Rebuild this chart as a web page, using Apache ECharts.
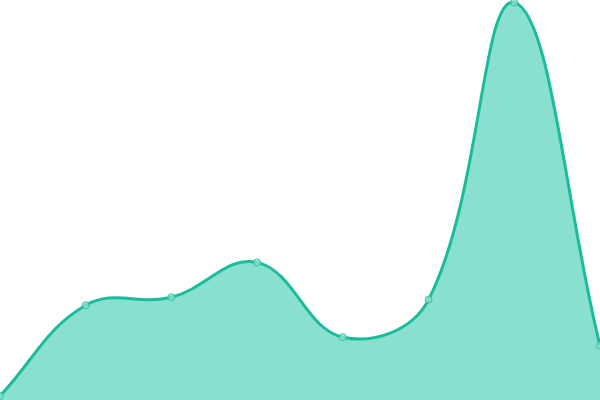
<!DOCTYPE html>
<html>
<head>
<meta charset="utf-8">
<script src="https://cdn.jsdelivr.net/npm/echarts@6/dist/echarts.min.js"></script>
<style>html,body{margin:0;padding:0;background:#fff}#c{width:600px;height:400px}</style>
</head>
<body>
<div id="c"></div>
<script>
const categories = ['A', 'B', 'C', 'D', 'E', 'F', 'G', 'H'];
const values = [10, 237, 257, 344, 157, 251, 994, 136];

const LINE_COLOR = '#1abc9c';
const FILL_COLOR = '#8ae0cf';
const TENSION = 0.4;

function splinePath(pts) {
  // distance-weighted cardinal spline (tension 0.4) in pixel space
  const cps = pts.map((cur, i) => {
    const prev = pts[i - 1] || cur;
    const next = pts[i + 1] || cur;
    const d01 = Math.hypot(cur[0] - prev[0], cur[1] - prev[1]);
    const d12 = Math.hypot(next[0] - cur[0], next[1] - cur[1]);
    let s01 = d01 / (d01 + d12), s12 = d12 / (d01 + d12);
    if (isNaN(s01)) s01 = 0;
    if (isNaN(s12)) s12 = 0;
    const fa = TENSION * s01, fb = TENSION * s12;
    return {
      prev: [cur[0] - fa * (next[0] - prev[0]), cur[1] - fa * (next[1] - prev[1])],
      next: [cur[0] + fb * (next[0] - prev[0]), cur[1] + fb * (next[1] - prev[1])]
    };
  });
  let d = 'M' + pts[0][0] + ' ' + pts[0][1];
  for (let i = 1; i < pts.length; i++) {
    const c1 = cps[i - 1].next, c2 = cps[i].prev, p = pts[i];
    d += ' C' + c1[0] + ' ' + c1[1] + ' ' + c2[0] + ' ' + c2[1] + ' ' + p[0] + ' ' + p[1];
  }
  return d;
}

const chart = echarts.init(document.getElementById('c'));
chart.setOption({
  animation: false,
  grid: { left: 0, right: 0, top: 0, bottom: 0 },
  xAxis: { type: 'category', data: categories, boundaryGap: false, show: false },
  yAxis: { type: 'value', min: 0, max: 1000, show: false },
  series: [{
    type: 'custom',
    data: values.map((v, i) => [i, v]),
    clip: false,
    z: 2,
    renderItem: function (params, api) {
      if (params.dataIndex !== 0) return null;
      const pts = values.map((v, i) => api.coord([i, v]));
      const base = api.coord([0, 0])[1];
      const line = splinePath(pts);
      const area = line + ' L' + pts[pts.length - 1][0] + ' ' + base + ' L' + pts[0][0] + ' ' + base + ' Z';
      return {
        type: 'group',
        children: [
          { type: 'path', shape: { pathData: area }, style: { fill: FILL_COLOR, stroke: null } },
          { type: 'path', shape: { pathData: line }, style: { fill: null, stroke: LINE_COLOR, lineWidth: 3 } }
        ]
      };
    }
  }, {
    type: 'scatter',
    data: values,
    z: 3,
    symbol: 'circle',
    symbolSize: 7,
    clip: false,
    itemStyle: { color: FILL_COLOR, borderColor: LINE_COLOR, borderWidth: 1 }
  }]
});
</script>
</body>
</html>
